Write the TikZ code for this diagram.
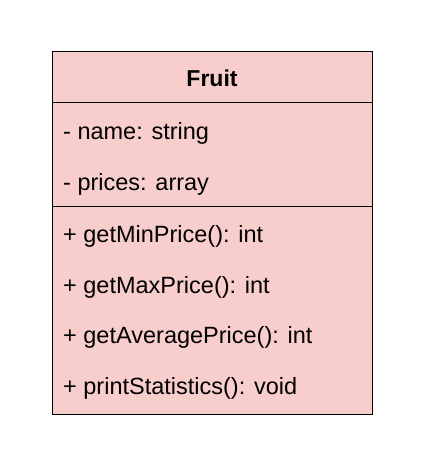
\documentclass[tikz,border=0pt]{standalone}
\usepackage{fontspec}
\setmainfont{Liberation Sans}
\usepackage{tikz}
\usetikzlibrary{positioning,calc}
\definecolor{fruitpink}{RGB}{248,206,204}

\begin{document}
\begin{tikzpicture}[
        x=1pt, y=-1pt,
        % UML class box in draw.io colours
        classbox/.style={rectangle, draw=black, fill=fruitpink, line width=1pt,
            minimum width=320pt, minimum height=363pt, anchor=north west},
        title/.style={font=\fontsize{23}{26}\selectfont\bfseries, anchor=base},
        member/.style={font=\fontsize{23.5}{26}\selectfont, anchor=base west, inner sep=0pt}
    ]
        \useasboundingbox (0,0) rectangle (424,472);

        % Class body
        \node[classbox] (fruit) at (52,51) {};
        \node[title] (name) at (212,86) {Fruit};

        % Compartment separators
        \coordinate (sepA) at (52,102);
        \coordinate (sepB) at (52,206);
        \draw[line width=1pt] (sepA) -- (sepA -| fruit.east);
        \draw[line width=0.8pt] (sepB) -- (sepB -| fruit.east);

        % Attributes
        \node[member] (attr1) at (63,139) {- name: string};
        \node[member] (attr2) at (63,190) {- prices: array};

        % Methods
        \node[member] (op1) at (63,242) {+ getMinPrice(): int};
        \node[member] (op2) at (63,293) {+ getMaxPrice(): int};
        \node[member] (op3) at (63,343) {+ getAveragePrice(): int};
        \node[member] (op4) at (63,394) {+ printStatistics(): void};
    \end{tikzpicture}
\end{document}
